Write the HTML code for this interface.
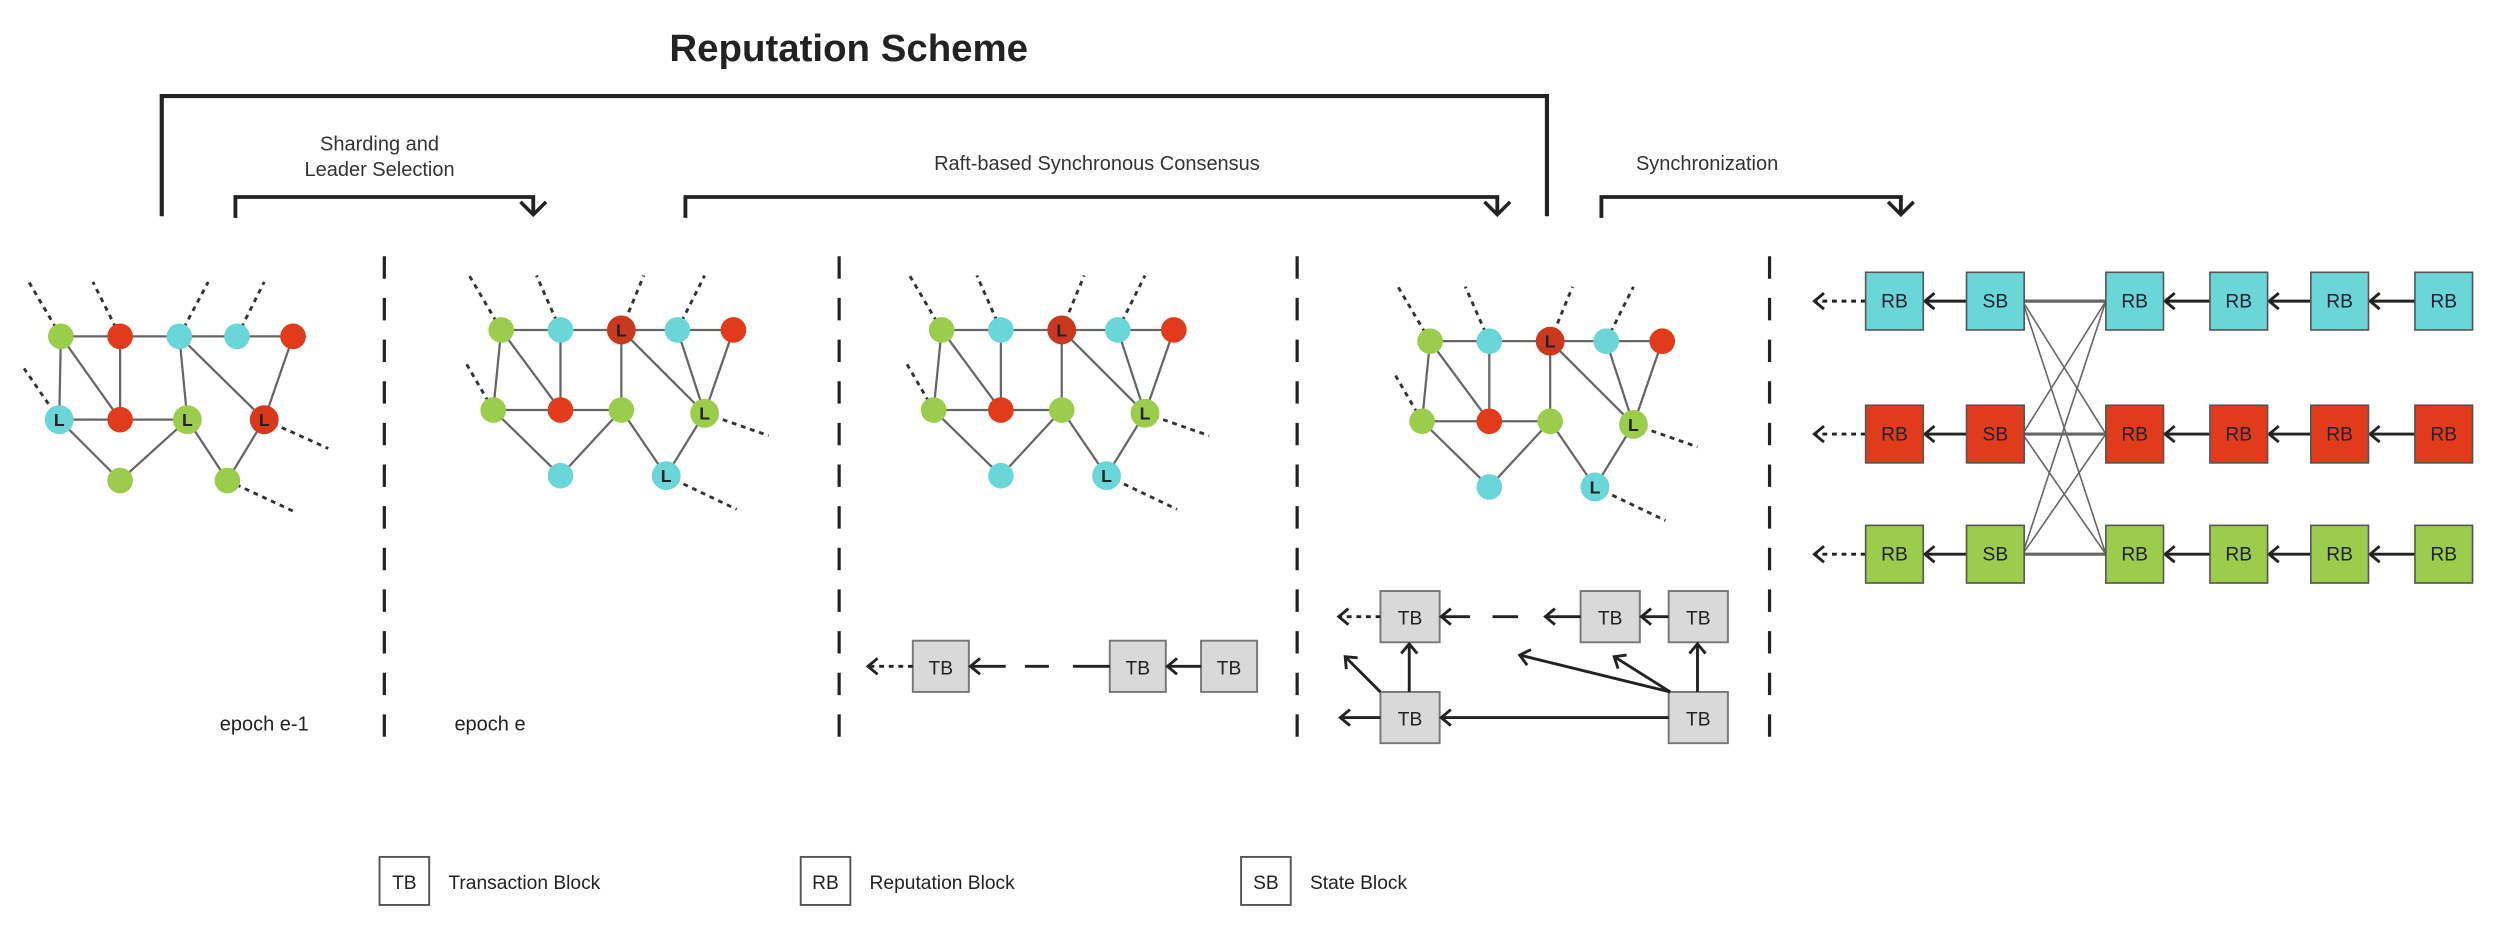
<!DOCTYPE html>
<html><head><meta charset="utf-8"><style>
html,body{margin:0;padding:0;background:#fff;}
svg{display:block;}
text{font-family:"Liberation Sans",sans-serif;}
</style></head><body>
<svg width="2511" height="929" viewBox="0 0 1568 580" preserveAspectRatio="none" xmlns="http://www.w3.org/2000/svg">
<defs>
<marker id="a" markerUnits="userSpaceOnUse" markerWidth="14" markerHeight="14" refX="7" refY="7" orient="auto" overflow="visible">
<path d="M1,2 L7,7 L1,12" fill="none" stroke="#222" stroke-width="1.8"/>
</marker>
<marker id="b" markerUnits="userSpaceOnUse" markerWidth="18" markerHeight="18" refX="9" refY="9" orient="auto" overflow="visible">
<path d="M1,1 L9,9 L1,17" fill="none" stroke="#222" stroke-width="2.2"/>
</marker>
</defs>

<!-- Title & brackets -->
<text x="530" y="38" font-size="24" font-weight="bold" fill="#222" text-anchor="middle">Reputation Scheme</text>
<polyline points="101,135 101,60 966,60 966,135" fill="none" stroke="#222" stroke-width="2.6"/>
<text x="237" y="94" font-size="12.5" fill="#333" text-anchor="middle">Sharding and</text>
<text x="237" y="110" font-size="12.5" fill="#333" text-anchor="middle">Leader Selection</text>
<polyline points="147,136 147,123 333,123 333,134" fill="none" stroke="#222" stroke-width="2.4" marker-end="url(#b)"/>
<text x="685" y="106" font-size="12.5" fill="#333" text-anchor="middle">Raft-based Synchronous Consensus</text>
<polyline points="428,136 428,123 935,123 935,134" fill="none" stroke="#222" stroke-width="2.4" marker-end="url(#b)"/>
<text x="1066" y="106" font-size="12.5" fill="#333" text-anchor="middle">Synchronization</text>
<polyline points="1000,136 1000,123 1187,123 1187,134" fill="none" stroke="#222" stroke-width="2.4" marker-end="url(#b)"/>

<!-- dashed separators -->
<g stroke="#222" stroke-width="2" stroke-dasharray="14,12">
<line x1="240" y1="160" x2="240" y2="462"/>
<line x1="524" y1="160" x2="524" y2="462"/>
<line x1="810" y1="160" x2="810" y2="462"/>
<line x1="1105" y1="160" x2="1105" y2="462"/>
</g>

<!-- Graph 1 -->
<g>
<g stroke="#333" stroke-width="1.8" stroke-dasharray="3,3">
<line x1="38" y1="210" x2="18" y2="176"/><line x1="75" y1="210" x2="58" y2="176"/>
<line x1="112" y1="210" x2="130" y2="176"/><line x1="148" y1="210" x2="165" y2="176"/>
<line x1="37" y1="262" x2="15" y2="230"/><line x1="165" y1="262" x2="205" y2="280"/>
<line x1="142" y1="300" x2="185" y2="320"/>
</g>
<g stroke="#666" stroke-width="1.4">
<line x1="38" y1="210" x2="183" y2="210"/><line x1="38" y1="210" x2="37" y2="262"/>
<line x1="38" y1="210" x2="75" y2="262"/><line x1="75" y1="210" x2="75" y2="262"/>
<line x1="112" y1="210" x2="117" y2="262"/><line x1="112" y1="210" x2="165" y2="262"/>
<line x1="183" y1="210" x2="165" y2="262"/><line x1="37" y1="262" x2="117" y2="262"/>
<line x1="37" y1="262" x2="75" y2="300"/><line x1="75" y1="300" x2="117" y2="262"/>
<line x1="117" y1="262" x2="142" y2="300"/><line x1="165" y1="262" x2="142" y2="300"/>
</g>
<circle cx="38" cy="210" r="8" fill="#9ccc4b"/><circle cx="75" cy="210" r="8" fill="#e23b1b"/>
<circle cx="112" cy="210" r="8" fill="#6ad6d8"/><circle cx="148" cy="210" r="8" fill="#6ad6d8"/>
<circle cx="183" cy="210" r="8" fill="#e23b1b"/>
<circle cx="37" cy="262" r="9" fill="#6ad6d8"/><circle cx="75" cy="262" r="8" fill="#e23b1b"/>
<circle cx="117" cy="262" r="9" fill="#9ccc4b"/><circle cx="165" cy="262" r="9" fill="#d8381b"/>
<circle cx="75" cy="300" r="8" fill="#9ccc4b"/><circle cx="142" cy="300" r="8" fill="#9ccc4b"/>
<g font-size="11" font-weight="bold" fill="#222" text-anchor="middle">
<text x="37" y="266">L</text><text x="117" y="266">L</text><text x="165" y="266">L</text></g>
</g>

<!-- Graph 2,3,4 -->
<g id="g2">
<g stroke="#333" stroke-width="1.8" stroke-dasharray="3,3">
<line x1="313" y1="206" x2="293" y2="172"/><line x1="350" y1="206" x2="335" y2="172"/>
<line x1="423" y1="206" x2="440" y2="172"/><line x1="388" y1="206" x2="402" y2="172"/>
<line x1="308" y1="256" x2="290" y2="225"/><line x1="440" y1="258" x2="480" y2="272"/>
<line x1="416" y1="297" x2="460" y2="318"/>
</g>
<g stroke="#666" stroke-width="1.4">
<line x1="313" y1="206" x2="458" y2="206"/><line x1="313" y1="206" x2="308" y2="256"/>
<line x1="313" y1="206" x2="350" y2="256"/><line x1="350" y1="206" x2="350" y2="256"/>
<line x1="388" y1="206" x2="388" y2="256"/><line x1="388" y1="206" x2="440" y2="258"/>
<line x1="423" y1="206" x2="440" y2="258"/><line x1="458" y1="206" x2="440" y2="258"/>
<line x1="308" y1="256" x2="388" y2="256"/><line x1="308" y1="256" x2="350" y2="297"/>
<line x1="350" y1="297" x2="388" y2="256"/><line x1="388" y1="256" x2="416" y2="297"/>
<line x1="440" y1="258" x2="416" y2="297"/>
</g>
<circle cx="313" cy="206" r="8" fill="#9ccc4b"/><circle cx="350" cy="206" r="8" fill="#6ad6d8"/>
<circle cx="388" cy="206" r="9" fill="#c8391e"/><circle cx="423" cy="206" r="8" fill="#6ad6d8"/>
<circle cx="458" cy="206" r="8" fill="#e23b1b"/>
<circle cx="308" cy="256" r="8" fill="#9ccc4b"/><circle cx="350" cy="256" r="8" fill="#e23b1b"/>
<circle cx="388" cy="256" r="8" fill="#9ccc4b"/><circle cx="440" cy="258" r="9" fill="#9ccc4b"/>
<circle cx="350" cy="297" r="8" fill="#6ad6d8"/><circle cx="416" cy="297" r="9" fill="#6ad6d8"/>
<g font-size="11" font-weight="bold" fill="#222" text-anchor="middle">
<text x="388" y="210">L</text><text x="440" y="262">L</text><text x="416" y="301">L</text></g>
</g>

<g transform="translate(275,0)">
<g stroke="#333" stroke-width="1.8" stroke-dasharray="3,3">
<line x1="313" y1="206" x2="293" y2="172"/><line x1="350" y1="206" x2="335" y2="172"/>
<line x1="423" y1="206" x2="440" y2="172"/><line x1="388" y1="206" x2="402" y2="172"/>
<line x1="308" y1="256" x2="290" y2="225"/><line x1="440" y1="258" x2="480" y2="272"/>
<line x1="416" y1="297" x2="460" y2="318"/>
</g>
<g stroke="#666" stroke-width="1.4">
<line x1="313" y1="206" x2="458" y2="206"/><line x1="313" y1="206" x2="308" y2="256"/>
<line x1="313" y1="206" x2="350" y2="256"/><line x1="350" y1="206" x2="350" y2="256"/>
<line x1="388" y1="206" x2="388" y2="256"/><line x1="388" y1="206" x2="440" y2="258"/>
<line x1="423" y1="206" x2="440" y2="258"/><line x1="458" y1="206" x2="440" y2="258"/>
<line x1="308" y1="256" x2="388" y2="256"/><line x1="308" y1="256" x2="350" y2="297"/>
<line x1="350" y1="297" x2="388" y2="256"/><line x1="388" y1="256" x2="416" y2="297"/>
<line x1="440" y1="258" x2="416" y2="297"/>
</g>
<circle cx="313" cy="206" r="8" fill="#9ccc4b"/><circle cx="350" cy="206" r="8" fill="#6ad6d8"/>
<circle cx="388" cy="206" r="9" fill="#c8391e"/><circle cx="423" cy="206" r="8" fill="#6ad6d8"/>
<circle cx="458" cy="206" r="8" fill="#e23b1b"/>
<circle cx="308" cy="256" r="8" fill="#9ccc4b"/><circle cx="350" cy="256" r="8" fill="#e23b1b"/>
<circle cx="388" cy="256" r="8" fill="#9ccc4b"/><circle cx="440" cy="258" r="9" fill="#9ccc4b"/>
<circle cx="350" cy="297" r="8" fill="#6ad6d8"/><circle cx="416" cy="297" r="9" fill="#6ad6d8"/>
<g font-size="11" font-weight="bold" fill="#222" text-anchor="middle">
<text x="388" y="210">L</text><text x="440" y="262">L</text><text x="416" y="301">L</text></g>
</g>

<g transform="translate(580,7)">
<g stroke="#333" stroke-width="1.8" stroke-dasharray="3,3">
<line x1="313" y1="206" x2="293" y2="172"/><line x1="350" y1="206" x2="335" y2="172"/>
<line x1="423" y1="206" x2="440" y2="172"/><line x1="388" y1="206" x2="402" y2="172"/>
<line x1="308" y1="256" x2="290" y2="225"/><line x1="440" y1="258" x2="480" y2="272"/>
<line x1="416" y1="297" x2="460" y2="318"/>
</g>
<g stroke="#666" stroke-width="1.4">
<line x1="313" y1="206" x2="458" y2="206"/><line x1="313" y1="206" x2="308" y2="256"/>
<line x1="313" y1="206" x2="350" y2="256"/><line x1="350" y1="206" x2="350" y2="256"/>
<line x1="388" y1="206" x2="388" y2="256"/><line x1="388" y1="206" x2="440" y2="258"/>
<line x1="423" y1="206" x2="440" y2="258"/><line x1="458" y1="206" x2="440" y2="258"/>
<line x1="308" y1="256" x2="388" y2="256"/><line x1="308" y1="256" x2="350" y2="297"/>
<line x1="350" y1="297" x2="388" y2="256"/><line x1="388" y1="256" x2="416" y2="297"/>
<line x1="440" y1="258" x2="416" y2="297"/>
</g>
<circle cx="313" cy="206" r="8" fill="#9ccc4b"/><circle cx="350" cy="206" r="8" fill="#6ad6d8"/>
<circle cx="388" cy="206" r="9" fill="#c8391e"/><circle cx="423" cy="206" r="8" fill="#6ad6d8"/>
<circle cx="458" cy="206" r="8" fill="#e23b1b"/>
<circle cx="308" cy="256" r="8" fill="#9ccc4b"/><circle cx="350" cy="256" r="8" fill="#e23b1b"/>
<circle cx="388" cy="256" r="8" fill="#9ccc4b"/><circle cx="440" cy="258" r="9" fill="#9ccc4b"/>
<circle cx="350" cy="297" r="8" fill="#6ad6d8"/><circle cx="416" cy="297" r="9" fill="#6ad6d8"/>
<g font-size="11" font-weight="bold" fill="#222" text-anchor="middle">
<text x="388" y="210">L</text><text x="440" y="262">L</text><text x="416" y="301">L</text></g>
</g>

<text x="165" y="456" font-size="12.5" fill="#222" text-anchor="middle">epoch e-1</text>
<text x="306" y="456" font-size="12.5" fill="#222" text-anchor="middle">epoch e</text>

<!-- TB chain graph 3 -->
<g fill="#d9d9d9" stroke="#777" stroke-width="1.2">
<rect x="570" y="400" width="35" height="32"/><rect x="693" y="400" width="35" height="32"/><rect x="750" y="400" width="35" height="32"/>
</g>
<g font-size="12" fill="#222" text-anchor="middle">
<text x="587.5" y="421">TB</text><text x="710.5" y="421">TB</text><text x="767.5" y="421">TB</text></g>
<g stroke="#222" stroke-width="1.8" fill="none">
<line x1="570" y1="416" x2="542" y2="416" stroke-dasharray="3,3" marker-end="url(#a)"/>
<line x1="750" y1="416" x2="729" y2="416" marker-end="url(#a)"/>
<line x1="693" y1="416" x2="670" y2="416"/>
<line x1="655" y1="416" x2="640" y2="416"/>
<line x1="628" y1="416" x2="606" y2="416" marker-end="url(#a)"/>
</g>

<!-- TB chain graph 4 -->
<g fill="#d9d9d9" stroke="#777" stroke-width="1.2">
<rect x="862" y="369" width="37" height="32"/><rect x="987" y="369" width="37" height="32"/><rect x="1042" y="369" width="37" height="32"/>
<rect x="862" y="432" width="37" height="32"/><rect x="1042" y="432" width="37" height="32"/>
</g>
<g font-size="12" fill="#222" text-anchor="middle">
<text x="880.5" y="390">TB</text><text x="1005.5" y="390">TB</text><text x="1060.5" y="390">TB</text>
<text x="880.5" y="453">TB</text><text x="1060.5" y="453">TB</text></g>
<g stroke="#222" stroke-width="1.8" fill="none">
<line x1="862" y1="385" x2="836" y2="385" stroke-dasharray="3,3" marker-end="url(#a)"/>
<line x1="1042" y1="385" x2="1025" y2="385" marker-end="url(#a)"/>
<line x1="987" y1="385" x2="965" y2="385" marker-end="url(#a)"/>
<line x1="948" y1="385" x2="932" y2="385"/>
<line x1="918" y1="385" x2="900" y2="385" marker-end="url(#a)"/>
<line x1="1042" y1="448" x2="900" y2="448" marker-end="url(#a)"/>
<line x1="862" y1="448" x2="837" y2="448" marker-end="url(#a)"/>
<line x1="880" y1="432" x2="880" y2="402" marker-end="url(#a)"/>
<line x1="862" y1="432" x2="840" y2="410" marker-end="url(#a)"/>
<line x1="1060" y1="432" x2="1060" y2="402" marker-end="url(#a)"/>
<line x1="1043" y1="432" x2="1008" y2="410" marker-end="url(#a)"/>
<line x1="1043" y1="432" x2="949" y2="409" marker-end="url(#a)"/>
</g>

<!-- Right side blocks -->
<g stroke="#666" stroke-width="1">
<line x1="1263" y1="188" x2="1315" y2="271"/><line x1="1263" y1="188" x2="1315" y2="346"/>
<line x1="1263" y1="271" x2="1315" y2="188"/><line x1="1263" y1="271" x2="1315" y2="346"/>
<line x1="1263" y1="346" x2="1315" y2="188"/><line x1="1263" y1="346" x2="1315" y2="271"/>
</g>
<g stroke="#666" stroke-width="2">
<line x1="1263" y1="188" x2="1315" y2="188"/><line x1="1263" y1="271" x2="1315" y2="271"/><line x1="1263" y1="346" x2="1315" y2="346"/>
</g>
<g stroke="#222" stroke-width="1.8" fill="none">
<line x1="1165" y1="188" x2="1133" y2="188" stroke-dasharray="3,3" marker-end="url(#a)"/>
<line x1="1165" y1="271" x2="1133" y2="271" stroke-dasharray="3,3" marker-end="url(#a)"/>
<line x1="1165" y1="346" x2="1133" y2="346" stroke-dasharray="3,3" marker-end="url(#a)"/>
<line x1="1228" y1="188" x2="1202" y2="188" marker-end="url(#a)"/>
<line x1="1228" y1="271" x2="1202" y2="271" marker-end="url(#a)"/>
<line x1="1228" y1="346" x2="1202" y2="346" marker-end="url(#a)"/>
<line x1="1380" y1="188" x2="1352" y2="188" marker-end="url(#a)"/>
<line x1="1443" y1="188" x2="1417" y2="188" marker-end="url(#a)"/>
<line x1="1508" y1="188" x2="1480" y2="188" marker-end="url(#a)"/>
<line x1="1380" y1="271" x2="1352" y2="271" marker-end="url(#a)"/>
<line x1="1443" y1="271" x2="1417" y2="271" marker-end="url(#a)"/>
<line x1="1508" y1="271" x2="1480" y2="271" marker-end="url(#a)"/>
<line x1="1380" y1="346" x2="1352" y2="346" marker-end="url(#a)"/>
<line x1="1443" y1="346" x2="1417" y2="346" marker-end="url(#a)"/>
<line x1="1508" y1="346" x2="1480" y2="346" marker-end="url(#a)"/>
</g>
<g stroke="#555" stroke-width="1">
<g fill="#6ad6d8">
<rect x="1165" y="170" width="36" height="36"/><rect x="1228" y="170" width="36" height="36"/>
<rect x="1315" y="170" width="36" height="36"/><rect x="1380" y="170" width="36" height="36"/>
<rect x="1443" y="170" width="36" height="36"/><rect x="1508" y="170" width="36" height="36"/>
</g>
<g fill="#e23b1b">
<rect x="1165" y="253" width="36" height="36"/><rect x="1228" y="253" width="36" height="36"/>
<rect x="1315" y="253" width="36" height="36"/><rect x="1380" y="253" width="36" height="36"/>
<rect x="1443" y="253" width="36" height="36"/><rect x="1508" y="253" width="36" height="36"/>
</g>
<g fill="#9ccc4b">
<rect x="1165" y="328" width="36" height="36"/><rect x="1228" y="328" width="36" height="36"/>
<rect x="1315" y="328" width="36" height="36"/><rect x="1380" y="328" width="36" height="36"/>
<rect x="1443" y="328" width="36" height="36"/><rect x="1508" y="328" width="36" height="36"/>
</g>
</g>
<g font-size="12" fill="#223" text-anchor="middle">
<text x="1183" y="192">RB</text><text x="1246" y="192">SB</text><text x="1333" y="192">RB</text><text x="1398" y="192">RB</text><text x="1461" y="192">RB</text><text x="1526" y="192">RB</text>
<text x="1183" y="275">RB</text><text x="1246" y="275">SB</text><text x="1333" y="275">RB</text><text x="1398" y="275">RB</text><text x="1461" y="275">RB</text><text x="1526" y="275">RB</text>
<text x="1183" y="350">RB</text><text x="1246" y="350">SB</text><text x="1333" y="350">RB</text><text x="1398" y="350">RB</text><text x="1461" y="350">RB</text><text x="1526" y="350">RB</text>
</g>

<!-- Legend -->
<g fill="#fff" stroke="#555" stroke-width="1.2">
<rect x="237" y="535" width="31" height="30"/><rect x="500" y="535" width="31" height="30"/><rect x="775" y="535" width="31" height="30"/>
</g>
<g font-size="12" fill="#222">
<text x="252.5" y="555" text-anchor="middle">TB</text><text x="515.5" y="555" text-anchor="middle">RB</text><text x="790.5" y="555" text-anchor="middle">SB</text>
<text x="280" y="555">Transaction Block</text><text x="543" y="555">Reputation Block</text><text x="818" y="555">State Block</text>
</g>
</svg>
</body></html>
